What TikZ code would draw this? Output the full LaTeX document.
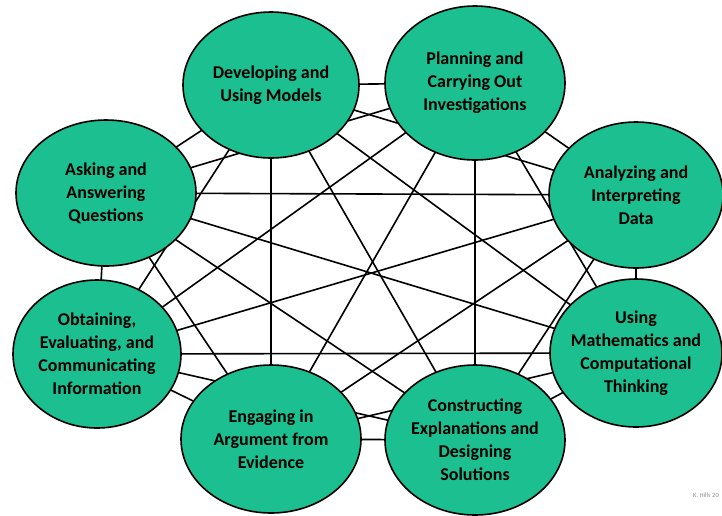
\documentclass[tikz,border=0pt]{standalone}
\usepackage{fontspec}
\setmainfont{Carlito}
\usetikzlibrary{shapes.geometric,backgrounds}

\definecolor{practicegreen}{RGB}{27,191,144}

\begin{document}
\begin{tikzpicture}[x=1pt, y=-1pt]

\tikzstyle{practice} = [
    ellipse,
    draw = black,
    line width = 1.6pt,
    fill = practicegreen,
    inner sep = 0pt
]
\tikzstyle{practext} = [
    align = center,
    text = black,
    font = \bfseries\fontsize{18}{23}\selectfont
]
\tikzstyle{link} = [line width=1.6pt, draw=black]

\useasboundingbox (0,0) rectangle (722,515);

% the eight practices
\node [practice, minimum width=176pt, minimum height=146pt,
    label={[practext]center:Developing and\\Using Models}] (dev) at (271,85) {};
\node [practice, minimum width=180pt, minimum height=154pt,
    label={[practext]center:Planning and\\Carrying Out\\Investigations}] (plan) at (475,83) {};
\node [practice, minimum width=180pt, minimum height=146pt,
    label={[practext]center:Asking and\\Answering\\Questions}] (ask) at (106,193) {};
\node [practice, minimum width=174pt, minimum height=146pt,
    label={[practext]center:Analyzing and\\Interpreting\\Data}] (ana) at (636,195) {};
\node [practice, minimum width=168pt, minimum height=148pt,
    label={[practext]center:Obtaining,\\Evaluating, and\\Communicating\\Information}] (obt) at (97,354) {};
\node [practice, minimum width=172pt, minimum height=148pt,
    label={[practext]center:Using\\Mathematics and\\Computational\\Thinking}] (use) at (636,353) {};
\node [practice, minimum width=180pt, minimum height=148pt,
    label={[practext]center:Engaging in\\Argument from\\Evidence}] (eng) at (271,439) {};
\node [practice, minimum width=180pt, minimum height=150pt,
    label={[practext]center:Constructing\\Explanations and\\Designing\\Solutions}] (con) at (475,440) {};

% every practice linked to every other one, behind the ellipses
\begin{scope}[on background layer]
\foreach \a [count=\i] in {dev,plan,ana,use,con,eng,obt,ask} {
    \foreach \b [count=\j] in {dev,plan,ana,use,con,eng,obt,ask} {
        \ifnum\i<\j
            \draw [link] (\a.center) -- (\b.center);
        \fi
    }
}
\end{scope}

\node [anchor=east, text=black!45, font=\fontsize{6.5}{7}\selectfont, inner sep=0pt]
    (credit) at (719,495) {K. Hills 20};

\end{tikzpicture}
\end{document}
